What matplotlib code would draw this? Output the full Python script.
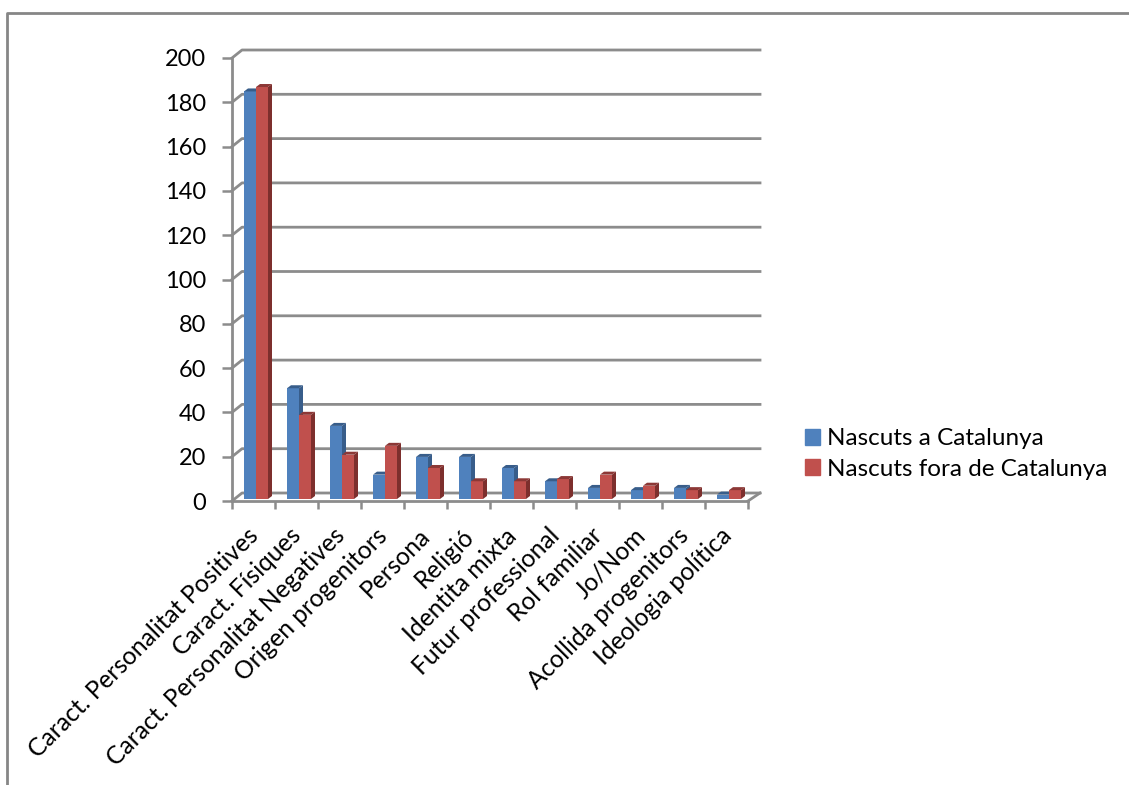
import matplotlib as mpl
import matplotlib.pyplot as plt
from matplotlib.patches import Patch, Polygon, Rectangle

mpl.rcParams['font.family'] = ['Lato', 'DejaVu Sans']

categories = ['Caract. Personalitat Positives', 'Caract. Físiques', 'Caract. Personalitat Negatives',
              'Origen progenitors', 'Persona', 'Religió', 'Identita mixta', 'Futur professional',
              'Rol familiar', 'Jo/Nom', 'Acollida progenitors', 'Ideologia política']
nascuts_cat = [184, 50, 33, 11, 19, 19, 14, 8, 5, 4, 5, 2]
nascuts_fora = [186, 38, 20, 24, 14, 8, 8, 9, 11, 6, 4, 4]
yticks = [0, 20, 40, 60, 80, 100, 120, 140, 160, 180, 200]

grey = '#8c8c8c'

fig = plt.figure(figsize=(11.29, 7.85), dpi=100)
ax = fig.add_axes([232/1129, 1 - 501/785, 516/1129, 443/785])
ax.set_xlim(0, 12)
ax.set_ylim(0, 200)

# pixels -> data units
px = 12 / 516
py = 200 / 443

# marc exterior
fig.add_artist(plt.Line2D([7/1129, 7/1129, 1], [0, 1 - 13/785, 1 - 13/785], color='#868686', lw=2))

# parets: graella del fons + diagonals de la paret esquerra
depth_x = 10 * px
depth_y = 8 * py
for v in yticks:
    ax.plot([0, depth_x, 12 + depth_x*1.2], [v, v + depth_y, v + depth_y], color=grey, lw=2, clip_on=False, zorder=1)
ax.plot([12, 12 + depth_x*1.2], [0, depth_y], color=grey, lw=2, clip_on=False, zorder=1)


def draw_bar(left, value, front, side, top):
    w = 12 * px
    base = 2 * py
    dx = 4 * px
    dy = 3 * py
    t = value + base
    ax.add_patch(Rectangle((left, base), w, value, color=front, lw=0, zorder=3, clip_on=False))
    ax.add_patch(Polygon([(left + w, base), (left + w + dx, base + dy), (left + w + dx, t + dy), (left + w, t)],
                         color=side, lw=0, zorder=3, clip_on=False))
    ax.add_patch(Polygon([(left, t), (left + dx, t + dy), (left + w + dx, t + dy), (left + w, t)],
                         color=top, lw=0, zorder=3, clip_on=False))


for i in range(len(categories)):
    draw_bar(i + 12*px, nascuts_cat[i], '#4f81bd', '#385d8a', '#385d8a')
    draw_bar(i + 24*px, nascuts_fora[i], '#c0504d', '#7d2f2d', '#8c3836')

# eixos
for s in ['top', 'right']:
    ax.spines[s].set_visible(False)
for s in ['left', 'bottom']:
    ax.spines[s].set_color(grey)
    ax.spines[s].set_linewidth(2)
    ax.spines[s].set_zorder(2)

ax.set_yticks(yticks)
ax.set_xticks(range(13))
ax.set_xticklabels([])
ax.set_xticks([i + 0.5 - 7*px for i in range(12)], minor=True)
ax.set_xticklabels(categories, minor=True, rotation=45, ha='right', va='top', rotation_mode='anchor', fontsize=17.7)
ax.tick_params(axis='x', which='major', length=6, width=1.8, color=grey)
ax.tick_params(axis='x', which='minor', length=0, pad=16.5)
ax.tick_params(axis='y', which='major', length=7, width=1.8, color=grey, labelsize=17, pad=11.5)

handles = [Patch(color='#4f81bd', label='Nascuts a Catalunya'),
           Patch(color='#c0504d', label='Nascuts fora de Catalunya')]
fig.legend(handles=handles, loc='center left', bbox_to_anchor=(805/1129, 1 - 454/785), frameon=False,
           fontsize=17.5, handlelength=0.62, handleheight=0.62, handletextpad=0.29, labelspacing=0.38,
           borderpad=0, borderaxespad=0)

fig.savefig('out.png', dpi=100)
